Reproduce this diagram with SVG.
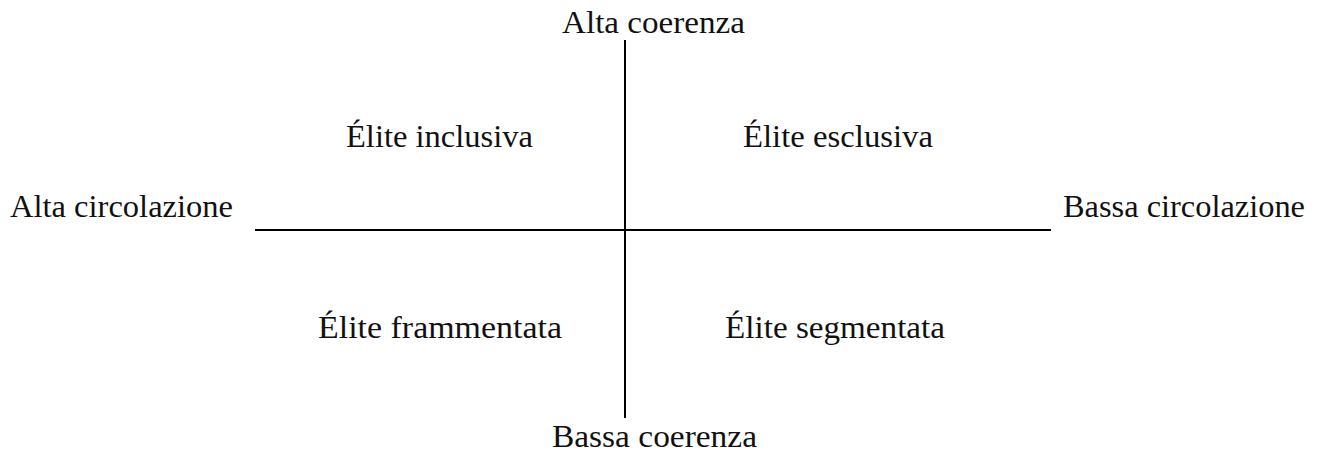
<svg xmlns="http://www.w3.org/2000/svg" width="1324" height="453" viewBox="0 0 1324 453">
<style>
.lbl{font-family:"Liberation Serif","DejaVu Serif",serif;font-size:31px;fill:#111;text-anchor:middle}
.ax{stroke:#000;stroke-width:2;fill:none}
</style>
<rect width="1324" height="453" fill="#fff"/>
<g id="connectors">
<line class="ax" x1="625" y1="40" x2="625" y2="418"/>
<line class="ax" x1="255" y1="230" x2="1051" y2="230"/>
</g>
<g id="alta-coerenza"><text class="lbl" x="653.5" y="33" textLength="183" lengthAdjust="spacingAndGlyphs">Alta coerenza</text></g>
<g id="bassa-coerenza"><text class="lbl" x="654.5" y="447" textLength="205" lengthAdjust="spacingAndGlyphs">Bassa coerenza</text></g>
<g id="alta-circolazione"><text class="lbl" x="121.5" y="217" textLength="223" lengthAdjust="spacingAndGlyphs">Alta circolazione</text></g>
<g id="bassa-circolazione"><text class="lbl" x="1184" y="217" textLength="242" lengthAdjust="spacingAndGlyphs">Bassa circolazione</text></g>
<g id="elite-inclusiva"><text class="lbl" x="439.5" y="147" textLength="187" lengthAdjust="spacingAndGlyphs">Élite inclusiva</text></g>
<g id="elite-esclusiva"><text class="lbl" x="838" y="147" textLength="190" lengthAdjust="spacingAndGlyphs">Élite esclusiva</text></g>
<g id="elite-frammentata"><text class="lbl" x="440" y="338" textLength="244" lengthAdjust="spacingAndGlyphs">Élite frammentata</text></g>
<g id="elite-segmentata"><text class="lbl" x="835" y="338" textLength="220" lengthAdjust="spacingAndGlyphs">Élite segmentata</text></g>
</svg>
